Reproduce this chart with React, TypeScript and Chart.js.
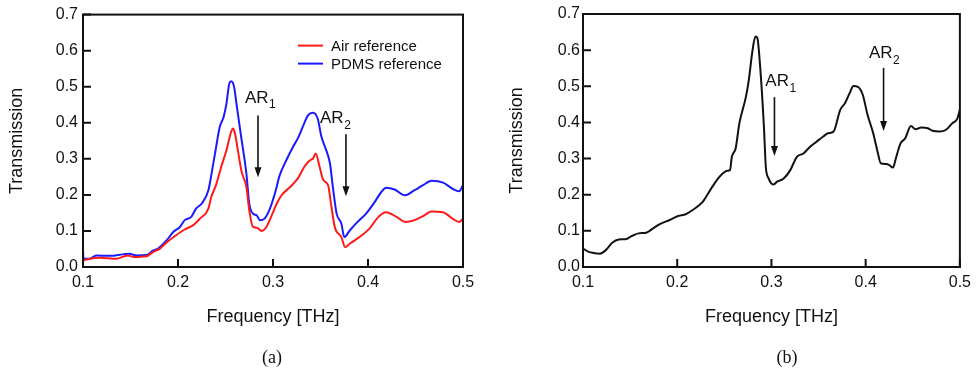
import React, { useEffect, useRef } from 'react';
import { Chart, registerables } from 'chart.js';

Chart.register(...registerables);

// ---------- data ----------
const airFreq = [0.100,0.107,0.118,0.135,0.147,0.153,0.167,0.174,0.181,0.188,0.198,0.207,0.216,0.223,0.232,0.235,0.240,0.246,0.251,0.256,0.258,0.260,0.263,0.267,0.272,0.275,0.279,0.283,0.288,0.293,0.298,0.304,0.309,0.318,0.326,0.333,0.340,0.342,0.345,0.349,0.353,0.358,0.361,0.365,0.372,0.376,0.381,0.391,0.402,0.411,0.419,0.430,0.439,0.449,0.458,0.467,0.479,0.489,0.496,0.500];
const airT = [0.018,0.023,0.026,0.023,0.032,0.028,0.030,0.042,0.051,0.068,0.088,0.104,0.116,0.134,0.162,0.194,0.227,0.282,0.324,0.375,0.384,0.370,0.324,0.264,0.222,0.157,0.111,0.109,0.100,0.111,0.139,0.176,0.199,0.222,0.245,0.278,0.298,0.300,0.315,0.278,0.241,0.227,0.176,0.111,0.083,0.055,0.065,0.083,0.108,0.139,0.152,0.139,0.125,0.130,0.141,0.154,0.152,0.134,0.125,0.134];

const pdmsFreq = [0.100,0.1005,0.107,0.114,0.128,0.142,0.149,0.156,0.167,0.174,0.179,0.188,0.195,0.202,0.207,0.214,0.219,0.225,0.232,0.235,0.239,0.244,0.248,0.251,0.254,0.256,0.259,0.262,0.267,0.272,0.275,0.279,0.283,0.286,0.291,0.296,0.302,0.307,0.314,0.321,0.326,0.332,0.337,0.342,0.347,0.351,0.356,0.360,0.363,0.367,0.372,0.375,0.381,0.389,0.398,0.407,0.414,0.419,0.428,0.439,0.449,0.458,0.467,0.479,0.489,0.496,0.500];
const pdmsT = [0.046,0.023,0.023,0.032,0.031,0.035,0.037,0.032,0.033,0.046,0.051,0.074,0.097,0.111,0.130,0.139,0.162,0.176,0.213,0.254,0.315,0.389,0.416,0.453,0.509,0.515,0.500,0.444,0.352,0.259,0.176,0.148,0.143,0.130,0.134,0.157,0.204,0.254,0.296,0.333,0.356,0.393,0.421,0.428,0.412,0.361,0.324,0.287,0.222,0.148,0.120,0.083,0.102,0.125,0.148,0.180,0.208,0.220,0.215,0.199,0.213,0.227,0.239,0.234,0.217,0.210,0.227];

const sampleFreq = [0.100,0.106,0.111,0.118,0.124,0.131,0.138,0.145,0.152,0.159,0.167,0.174,0.181,0.192,0.201,0.209,0.216,0.227,0.236,0.245,0.253,0.256,0.258,0.262,0.266,0.273,0.276,0.280,0.283,0.285,0.288,0.292,0.294,0.297,0.302,0.306,0.313,0.320,0.327,0.334,0.341,0.348,0.355,0.360,0.366,0.373,0.378,0.383,0.387,0.392,0.397,0.402,0.408,0.413,0.416,0.422,0.425,0.429,0.432,0.437,0.442,0.448,0.453,0.459,0.466,0.471,0.478,0.485,0.492,0.497,0.500];
const sampleT = [0.051,0.042,0.039,0.037,0.046,0.067,0.076,0.077,0.086,0.093,0.095,0.106,0.118,0.130,0.141,0.146,0.157,0.180,0.217,0.250,0.266,0.268,0.305,0.328,0.398,0.472,0.518,0.601,0.638,0.634,0.555,0.389,0.278,0.245,0.228,0.236,0.245,0.268,0.305,0.314,0.333,0.347,0.361,0.370,0.375,0.435,0.453,0.481,0.501,0.498,0.476,0.421,0.370,0.315,0.287,0.285,0.282,0.275,0.300,0.342,0.356,0.390,0.381,0.386,0.384,0.377,0.375,0.379,0.398,0.409,0.435];

const xTicks = [0.1, 0.2, 0.3, 0.4, 0.5];
const yTicks = [0.0, 0.1, 0.2, 0.3, 0.4, 0.5, 0.6, 0.7];
const xTitle = 'Frequency [THz]';
const yTitle = 'Transmission';
const seriesNamesA = ['Air reference', 'PDMS reference'];

// annotation anchors (data coordinates)
const annotA = [
  { label: 'AR', sub: '1', tx: 0.2705, ty: 0.469, ax: 0.2842, y0: 0.42, y1: 0.249 },
  { label: 'AR', sub: '2', tx: 0.3495, ty: 0.412, ax: 0.3768, y0: 0.368, y1: 0.196 },
];
const annotB = [
  { label: 'AR', sub: '1', tx: 0.2935, ty: 0.513, ax: 0.3032, y0: 0.47, y1: 0.307 },
  { label: 'AR', sub: '2', tx: 0.4035, ty: 0.591, ax: 0.419, y0: 0.551, y1: 0.376 },
];

const FONT = "'Liberation Sans', Arial, sans-serif";

const zip = (xs: number[], ys: number[]) => xs.map((x, i) => ({ x, y: ys[i] }));

function makePlugin(annots: any[], legendItems: { text: string; color: string }[]) {
  return {
    id: 'decor',
    afterDatasetsDraw(chart: any) {
      const { ctx, chartArea: ca, scales } = chart;
      const xs = scales.x, ys = scales.y;
      ctx.save();
      // frame
      ctx.strokeStyle = '#111';
      ctx.lineWidth = 2;
      ctx.strokeRect(ca.left, ca.top, ca.right - ca.left, ca.bottom - ca.top);
      // inward ticks
      ctx.lineWidth = 2;
      ctx.beginPath();
      xTicks.forEach((t) => {
        const px = xs.getPixelForValue(t);
        ctx.moveTo(px, ca.bottom);
        ctx.lineTo(px, ca.bottom - 8);
      });
      yTicks.forEach((t) => {
        const py = ys.getPixelForValue(t);
        ctx.moveTo(ca.left, py);
        ctx.lineTo(ca.left + 8, py);
      });
      ctx.stroke();

      // annotations
      annots.forEach((a) => {
        const tx = xs.getPixelForValue(a.tx);
        const ty = ys.getPixelForValue(a.ty);
        ctx.fillStyle = '#111';
        ctx.font = `17px ${FONT}`;
        ctx.textAlign = 'left';
        ctx.textBaseline = 'middle';
        ctx.fillText(a.label, tx, ty);
        const w = ctx.measureText(a.label).width;
        ctx.font = `12px ${FONT}`;
        ctx.fillText(a.sub, tx + w + 0.5, ty + 7);
        const ax = xs.getPixelForValue(a.ax);
        const ay0 = ys.getPixelForValue(a.y0);
        const ay1 = ys.getPixelForValue(a.y1);
        ctx.strokeStyle = '#111';
        ctx.lineWidth = 1.6;
        ctx.beginPath();
        ctx.moveTo(ax, ay0);
        ctx.lineTo(ax, ay1 - 9);
        ctx.stroke();
        ctx.beginPath();
        ctx.moveTo(ax - 3.5, ay1 - 10);
        ctx.lineTo(ax + 3.5, ay1 - 10);
        ctx.lineTo(ax, ay1);
        ctx.closePath();
        ctx.fill();
      });

      // legend
      legendItems.forEach((it, i) => {
        const lx = ca.left + 215;
        const ly = ca.top + 31 + i * 18;
        ctx.strokeStyle = it.color;
        ctx.lineWidth = 2;
        ctx.beginPath();
        ctx.moveTo(lx, ly);
        ctx.lineTo(lx + 25, ly);
        ctx.stroke();
        ctx.fillStyle = '#111';
        ctx.font = `15px ${FONT}`;
        ctx.textAlign = 'left';
        ctx.textBaseline = 'middle';
        ctx.fillText(it.text, lx + 33, ly + 1);
      });
      ctx.restore();
    },
  };
}

function Panel(props: {
  left: number;
  width: number;
  rightPad: number;
  datasets: any[];
  annots: any[];
  legendItems: { text: string; color: string }[];
  caption: string;
  captionX: number;
  yLabelPad: number;
}) {
  const ref = useRef<HTMLCanvasElement | null>(null);
  useEffect(() => {
    if (!ref.current) return;
    const chart = new Chart(ref.current, {
      type: 'line',
      data: { datasets: props.datasets },
      options: {
        animation: false,
        responsive: false,
        devicePixelRatio: 1,
        layout: { padding: { top: 14, right: props.rightPad, left: 0, bottom: 0 } },
        plugins: { legend: { display: false }, tooltip: { enabled: false } },
        elements: { point: { radius: 0 } },
        scales: {
          x: {
            type: 'linear',
            min: 0.1,
            max: 0.5,
            afterFit: (s: any) => { s.height = 101; },
            afterBuildTicks: (s: any) => { s.ticks = xTicks.map((v) => ({ value: v })); },
            grid: { display: false, drawTicks: false },
            border: { display: false },
            ticks: {
              padding: 6,
              color: '#111',
              font: { family: FONT, size: 16 },
              callback: (v: any) => Number(v).toFixed(1),
              maxRotation: 0,
            },
            title: {
              display: true,
              text: xTitle,
              color: '#111',
              font: { family: FONT, size: 18 },
              padding: { top: 0, bottom: 40 },
            },
          },
          y: {
            type: 'linear',
            min: 0,
            max: 0.7,
            afterFit: (s: any) => { s.width = 83; },
            afterBuildTicks: (s: any) => { s.ticks = yTicks.map((v) => ({ value: v })); },
            grid: { display: false, drawTicks: false },
            border: { display: false },
            ticks: {
              padding: props.yLabelPad,
              color: '#111',
              font: { family: FONT, size: 16 },
              callback: (v: any) => Number(v).toFixed(1),
            },
            title: {
              display: true,
              text: yTitle,
              color: '#111',
              font: { family: FONT, size: 18 },
              padding: { top: 6, bottom: 0 },
            },
          },
        },
      },
      plugins: [makePlugin(props.annots, props.legendItems)],
    } as any);
    return () => chart.destroy();
  }, []);
  return (
    <>
      <canvas
        ref={ref}
        width={props.width}
        height={368}
        style={{ position: 'absolute', left: props.left, top: 0, width: props.width, height: 368 }}
      />
      <div
        style={{
          position: 'absolute',
          left: props.captionX - 40,
          width: 80,
          top: 346,
          textAlign: 'center',
          fontFamily: "'Liberation Serif', 'Times New Roman', serif",
          fontSize: 18,
          lineHeight: '22px',
          color: '#111',
        }}
      >
        {props.caption}
      </div>
    </>
  );
}

export default function App() {
  const dsA = [
    {
      label: seriesNamesA[0],
      data: zip(airFreq, airT),
      borderColor: '#ff1a1a',
      borderWidth: 2,
      cubicInterpolationMode: 'monotone',
      fill: false,
    },
    {
      label: seriesNamesA[1],
      data: zip(pdmsFreq, pdmsT),
      borderColor: '#1a1aff',
      borderWidth: 2,
      cubicInterpolationMode: 'monotone',
      fill: false,
    },
  ];
  const dsB = [
    {
      label: 'Sample',
      data: zip(sampleFreq, sampleT),
      borderColor: '#111',
      borderWidth: 2,
      cubicInterpolationMode: 'monotone',
      fill: false,
    },
  ];
  return (
    <div style={{ position: 'fixed', left: 0, top: 0, width: 977, height: 368, background: '#fff', overflow: 'hidden' }}>
      <Panel
        left={0}
        width={488}
        rightPad={25}
        datasets={dsA}
        annots={annotA}
        legendItems={[
          { text: seriesNamesA[0], color: '#ff1a1a' },
          { text: seriesNamesA[1], color: '#1a1aff' },
        ]}
        caption="(a)"
        captionX={272}
        yLabelPad={5}
      />
      <Panel
        left={500}
        width={477}
        rightPad={14}
        datasets={dsB}
        annots={annotB}
        legendItems={[]}
        caption="(b)"
        captionX={787}
        yLabelPad={3}
      />
    </div>
  );
}
